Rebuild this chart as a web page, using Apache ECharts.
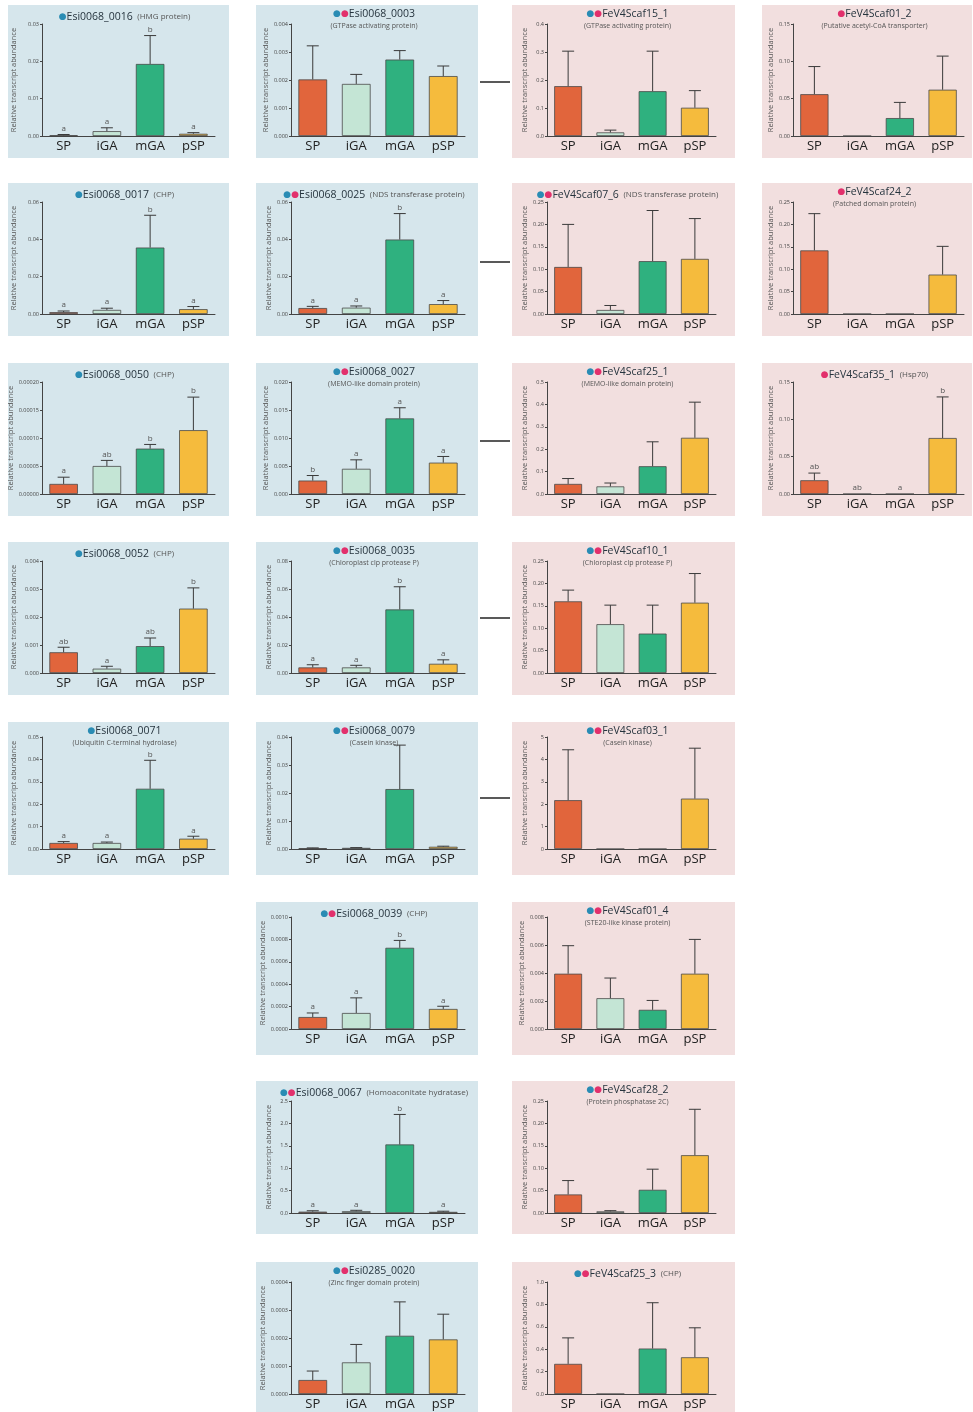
<!DOCTYPE html>
<html>
<head>
<meta charset="utf-8">
<script src="https://cdn.jsdelivr.net/npm/echarts@6/dist/echarts.min.js"></script>
<style>
html, body { margin: 0; padding: 0; background: #fff; }
#chart { width: 973px; height: 1412px; }
</style>
</head>
<body>
<div id="chart"></div>
<script>
const categories = ['SP', 'iGA', 'mGA', 'pSP'];

// one entry per panel, row by row, left to right
const geneIds = [
  'Esi0068_0016', 'Esi0068_0003', 'FeV4Scaf15_1', 'FeV4Scaf01_2',
  'Esi0068_0017', 'Esi0068_0025', 'FeV4Scaf07_6', 'FeV4Scaf24_2',
  'Esi0068_0050', 'Esi0068_0027', 'FeV4Scaf25_1', 'FeV4Scaf35_1',
  'Esi0068_0052', 'Esi0068_0035', 'FeV4Scaf10_1',
  'Esi0068_0071', 'Esi0068_0079', 'FeV4Scaf03_1',
  'Esi0068_0039', 'FeV4Scaf01_4',
  'Esi0068_0067', 'FeV4Scaf28_2',
  'Esi0285_0020', 'FeV4Scaf25_3'
];
const geneNotes = [
  '(HMG protein)', '(GTPase activating protein)', '(GTPase activating protein)', '(Putative acetyl-CoA transporter)',
  '(CHP)', '(NDS transferase protein)', '(NDS transferase protein)', '(Patched domain protein)',
  '(CHP)', '(MEMO-like domain protein)', '(MEMO-like domain protein)', '(Hsp70)',
  '(CHP)', '(Chloroplast clp protease P)', '(Chloroplast clp protease P)',
  '(Ubiquitin C-terminal hydrolase)', '(Casein kinase)', '(Casein kinase)',
  '(CHP)', '(STE20-like kinase protein)',
  '(Homoaconitate hydratase)', '(Protein phosphatase 2C)',
  '(Zinc finger domain protein)', '(CHP)'
];
const noteOnSecondLine = [
  false, true, true, true,
  false, false, false, true,
  false, true, true, false,
  false, true, true,
  true, true, true,
  false, true,
  false, true,
  true, false
];
// b = blue dot, p = pink dot
const dotTypes = [
  'b', 'bp', 'bp', 'p',
  'b', 'bp', 'bp', 'p',
  'b', 'bp', 'bp', 'p',
  'b', 'bp', 'bp',
  'b', 'bp', 'bp',
  'bp', 'bp',
  'bp', 'bp',
  'bp', 'bp'
];

const meanValues = [
  [0.0002, 0.0013, 0.0193, 0.0006],
  [0.00202, 0.00186, 0.00273, 0.00214],
  [0.178, 0.013, 0.16, 0.101],
  [0.056, 0, 0.024, 0.062],
  [0.001, 0.0022, 0.0356, 0.0026],
  [0.0032, 0.0034, 0.0399, 0.0053],
  [0.105, 0.009, 0.118, 0.123],
  [0.142, 0, 0, 0.088],
  [0.000018, 0.00005, 0.000081, 0.000114],
  [0.0024, 0.0045, 0.0135, 0.0056],
  [0.045, 0.034, 0.124, 0.251],
  [0.0184, 0, 0, 0.075],
  [0.00074, 0.000155, 0.00096, 0.0023],
  [0.004, 0.004, 0.0454, 0.0066],
  [0.160, 0.109, 0.088, 0.157],
  [0.0027, 0.0027, 0.0269, 0.0046],
  [0.0003, 0.0004, 0.0214, 0.0008],
  [2.18, 0, 0, 2.25],
  [0.000107, 0.000143, 0.000725, 0.000179],
  [0.00395, 0.0022, 0.00137, 0.00395],
  [0.03, 0.04, 1.53, 0.025],
  [0.0414, 0.0037, 0.0518, 0.129],
  [0.00005, 0.000113, 0.000208, 0.000195],
  [0.269, 0, 0.406, 0.328]
];
const sdValues = [
  [0.0002, 0.0009, 0.0076, 0.0003],
  [0.0012, 0.00034, 0.00032, 0.00036],
  [0.125, 0.008, 0.143, 0.061],
  [0.037, 0, 0.021, 0.045],
  [0.0006, 0.0009, 0.0173, 0.0014],
  [0.0009, 0.0009, 0.0139, 0.0019],
  [0.095, 0.01, 0.113, 0.09],
  [0.082, 0, 0, 0.063],
  [0.000012, 0.00001, 0.0000075, 0.000059],
  [0.0009, 0.0016, 0.0019, 0.0011],
  [0.024, 0.015, 0.109, 0.159],
  [0.0096, 0, 0, 0.055],
  [0.00018, 0.000085, 0.00029, 0.00074],
  [0.0019, 0.0015, 0.0162, 0.0028],
  [0.025, 0.0425, 0.0635, 0.065],
  [0.0006, 0.0004, 0.0127, 0.0011],
  [0.0001, 0.0001, 0.0157, 0.0002],
  [2.25, 0, 0, 2.25],
  [0.000036, 0.000135, 0.000066, 0.000024],
  [0.002, 0.00144, 0.00067, 0.00245],
  [0.02, 0.02, 0.67, 0.015],
  [0.031, 0.0015, 0.046, 0.1025],
  [0.000032, 0.000064, 0.000121, 0.00009],
  [0.232, 0, 0.409, 0.263]
];
const sigLetters = [
  ['a', 'a', 'b', 'a'], null, null, null,
  ['a', 'a', 'b', 'a'], ['a', 'a', 'b', 'a'], null, null,
  ['a', 'ab', 'b', 'b'], ['b', 'a', 'a', 'a'], null, ['ab', 'ab', 'a', 'b'],
  ['ab', 'a', 'ab', 'b'], ['a', 'a', 'b', 'a'], null,
  ['a', 'a', 'b', 'a'], null, null,
  ['a', 'a', 'b', 'a'], null,
  ['a', 'a', 'b', 'a'], null,
  null, null
];
const axisMax = [
  0.03, 0.004, 0.4, 0.15,
  0.06, 0.06, 0.25, 0.25,
  0.0002, 0.02, 0.5, 0.15,
  0.004, 0.08, 0.25,
  0.05, 0.04, 5,
  0.001, 0.008,
  2.5, 0.25,
  0.0004, 1.0
];
const axisStep = [
  0.01, 0.001, 0.1, 0.05,
  0.02, 0.02, 0.05, 0.05,
  0.00005, 0.005, 0.1, 0.05,
  0.001, 0.02, 0.05,
  0.01, 0.01, 1,
  0.0002, 0.002,
  0.5, 0.05,
  0.0001, 0.2
];
const labelDecimals = [
  2, 3, 1, 2,
  2, 2, 2, 2,
  5, 3, 1, 2,
  3, 2, 2,
  2, 2, 0,
  4, 3,
  1, 2,
  4, 1
];

// layout
const panelCells = [
  [0, 0], [0, 1], [0, 2], [0, 3],
  [1, 0], [1, 1], [1, 2], [1, 3],
  [2, 0], [2, 1], [2, 2], [2, 3],
  [3, 0], [3, 1], [3, 2],
  [4, 0], [4, 1], [4, 2],
  [5, 1], [5, 2],
  [6, 1], [6, 2],
  [7, 1], [7, 2]
];
const colX = [8, 256, 512, 762];
const colW = [221, 222, 223, 210];
const plotLeft = [34, 35, 35, 31];
const plotRight = [14, 13, 19, 8];
const nameGaps = [24, 18, 18, 18];
const rowY = [5, 183, 363, 542, 722, 902, 1081, 1262];
const rowH = [153, 153, 153, 153, 153, 153, 153, 150];
const rowPlotTop = [19, 19, 19, 19, 15, 15, 20, 20];
const plotH = 112;
const linkY = [82, 262, 441, 618, 798];

const barColors = ['#e1653c', '#c4e5d5', '#2fb17f', '#f5bb3d'];
const blueBg = '#d6e6ec';
const pinkBg = '#f2dfdf';
const font = 'Open Sans, DejaVu Sans, sans-serif';

const chart = echarts.init(document.getElementById('chart'));

function titleText(p) {
  let dots = '{p|●}';
  if (dotTypes[p] === 'bp') dots = '{b|●}{p|●}';
  if (dotTypes[p] === 'b') dots = '{b|●}';
  if (noteOnSecondLine[p]) {
    return dots + '{n|' + geneIds[p] + '}\n{s|' + geneNotes[p] + '}';
  }
  return dots + '{n|' + geneIds[p] + '} {m|' + geneNotes[p] + '}';
}

function errorBars(p) {
  return function (params, api) {
    const idx = api.value(0);
    const mean = api.value(1);
    const sd = api.value(2);
    const base = api.coord([idx, mean]);
    const top = api.coord([idx, mean + sd]);
    const children = [];
    if (sd > 0) {
      children.push({
        type: 'line',
        shape: { x1: base[0], y1: base[1], x2: top[0], y2: top[1] },
        style: { stroke: '#3a3a3a', lineWidth: 1 }
      });
      children.push({
        type: 'line',
        shape: { x1: top[0] - 6, y1: top[1], x2: top[0] + 6, y2: top[1] },
        style: { stroke: '#3a3a3a', lineWidth: 1 }
      });
    }
    const letters = sigLetters[p];
    if (letters) {
      children.push({
        type: 'text',
        x: top[0],
        y: top[1] - 2,
        style: {
          text: letters[params.dataIndex],
          textAlign: 'center',
          textVerticalAlign: 'bottom',
          fontSize: 8,
          fontFamily: font,
          fill: '#555'
        }
      });
    }
    return { type: 'group', children: children };
  };
}

const titles = [];
const grids = [];
const xAxes = [];
const yAxes = [];
const series = [];
const graphics = [];

panelCells.forEach(function (cell, p) {
  const r = cell[0];
  const c = cell[1];
  const px = colX[c];
  const py = rowY[r];

  graphics.push({
    type: 'rect',
    z: -10,
    shape: { x: px, y: py, width: colW[c], height: rowH[r] },
    style: { fill: c < 2 ? blueBg : pinkBg }
  });

  const gLeft = px + plotLeft[c];
  const gWidth = colW[c] - plotLeft[c] - plotRight[c];
  grids.push({ left: gLeft, top: py + rowPlotTop[r], width: gWidth, height: plotH });

  titles.push({
    text: titleText(p),
    left: gLeft + gWidth / 2 - 4,
    top: py + 3,
    textAlign: 'center',
    padding: 0,
    textStyle: {
      fontFamily: font,
      fontWeight: 'normal',
      rich: {
        b: { color: '#2a8cb4', fontSize: 9, fontFamily: 'DejaVu Sans', fontWeight: 'normal' },
        p: { color: '#e2306c', fontSize: 9, fontFamily: 'DejaVu Sans', fontWeight: 'normal' },
        n: { color: '#26343e', fontSize: 10.5, fontFamily: font, lineHeight: 12, fontWeight: 'normal' },
        m: { color: '#555', fontSize: 8, fontFamily: font, fontWeight: 'normal' },
        s: { color: '#555', fontSize: 7, fontFamily: font, lineHeight: 11, fontWeight: 'normal' }
      }
    }
  });

  xAxes.push({
    type: 'category',
    gridIndex: p,
    data: categories,
    axisTick: { show: false },
    axisLine: { lineStyle: { color: '#444', width: 1 } },
    axisLabel: { fontSize: 13, color: '#222', margin: 4, fontFamily: font, interval: 0 }
  });

  const dec = labelDecimals[p];
  yAxes.push({
    type: 'value',
    gridIndex: p,
    min: 0,
    max: axisMax[p],
    interval: axisStep[p],
    name: 'Relative transcript abundance',
    nameLocation: 'middle',
    nameGap: nameGaps[c],
    nameTextStyle: { fontSize: 7.5, color: '#555', fontFamily: font },
    splitLine: { show: false },
    axisLine: { show: true, lineStyle: { color: '#444', width: 1 } },
    axisTick: { show: true, length: 2, lineStyle: { color: '#444' } },
    axisLabel: {
      fontSize: 5.5,
      color: '#444',
      margin: 3,
      fontFamily: font,
      formatter: function (v) { return v.toFixed(dec); }
    }
  });

  series.push({
    type: 'bar',
    xAxisIndex: p,
    yAxisIndex: p,
    barWidth: '66%',
    data: meanValues[p].map(function (v, i) {
      return { value: v, itemStyle: { color: barColors[i] } };
    }),
    itemStyle: { borderColor: '#4a4a4a', borderWidth: 0.8 },
    z: 2
  });

  series.push({
    type: 'custom',
    xAxisIndex: p,
    yAxisIndex: p,
    renderItem: errorBars(p),
    data: meanValues[p].map(function (v, i) { return [i, v, sdValues[p][i]]; }),
    z: 3
  });
});

linkY.forEach(function (y) {
  graphics.push({
    type: 'line',
    shape: { x1: 480, y1: y, x2: 510, y2: y },
    style: { stroke: '#222', lineWidth: 1.5 }
  });
});

chart.setOption({
  animation: false,
  backgroundColor: '#fff',
  title: titles,
  grid: grids,
  xAxis: xAxes,
  yAxis: yAxes,
  series: series,
  graphic: graphics
});
</script>
</body>
</html>
